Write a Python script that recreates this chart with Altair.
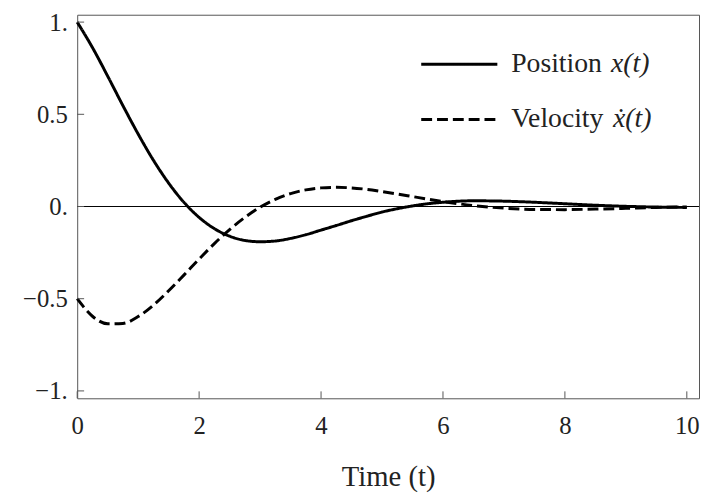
import altair as alt
import pandas as pd

# ---- data ----
t = [0, 0.25, 0.5, 0.75, 1, 1.25, 1.5, 1.75, 2, 2.25, 2.5, 2.75, 3, 3.25, 3.5,
     3.75, 4, 4.25, 4.5, 4.75, 5, 5.25, 5.5, 5.75, 6, 6.5, 7, 7.5, 8, 8.5, 9,
     9.5, 10]
position = [1.000, 0.862, 0.707, 0.547, 0.393, 0.251, 0.127, 0.023, -0.059,
            -0.120, -0.161, -0.184, -0.191, -0.187, -0.173, -0.153, -0.128,
            -0.103, -0.077, -0.053, -0.030, -0.012, 0.003, 0.015, 0.023, 0.031,
            0.029, 0.023, 0.015, 0.007, 0.001, -0.003, -0.005]
velocity = [-0.500, -0.595, -0.636, -0.634, -0.597, -0.535, -0.457, -0.372,
            -0.285, -0.201, -0.125, -0.059, -0.004, 0.039, 0.070, 0.090, 0.101,
            0.104, 0.101, 0.093, 0.081, 0.068, 0.054, 0.040, 0.027, 0.005,
            -0.009, -0.016, -0.017, -0.014, -0.010, -0.005, -0.002]

series_names = ["Position", "Velocity"]
legend_words = ["Position", "Velocity"]
legend_symbols = ["x(t)", "ẋ(t)"]

x_ticks = [0, 2, 4, 6, 8, 10]
x_tick_labels = ["0", "2", "4", "6", "8", "10"]
y_ticks = [-1, -0.5, 0, 0.5, 1]
y_tick_labels = ["−1.", "−0.5", "0.", "0.5", "1."]
x_title = "Time (t)"

# ---- layout / style ----
W, H = 629, 388
FONT = "Liberation Serif"
FRAME = "#555555"
TEXT = "#222222"


def label_expr(values, labels):
    parts = [f"datum.value == {v} ? '{l}'" for v, l in zip(values, labels)]
    return " : ".join(parts) + " : ''"


df = pd.DataFrame({
    "t": t + t,
    "value": position + velocity,
    "series": [series_names[0]] * len(t) + [series_names[1]] * len(t),
})

x_scale = alt.Scale(domain=[0, 10.2], nice=False, zero=False)
y_scale = alt.Scale(domain=[-1.04, 1.04], nice=False, zero=False)

x_axis = alt.Axis(values=x_ticks, labelExpr=label_expr(x_ticks, x_tick_labels),
                  domain=False, ticks=False, grid=False, labelFlush=False,
                  labelOverlap=False, labelFont=FONT, labelFontSize=25,
                  labelColor=TEXT, labelPadding=16, title=x_title,
                  titleFont=FONT, titleFontSize=29, titleFontWeight="normal",
                  titleColor=TEXT, titlePadding=24)
y_axis = alt.Axis(values=y_ticks, labelExpr=label_expr(y_ticks, y_tick_labels),
                  domain=False, ticks=False, grid=False, labelFlush=False,
                  labelOverlap=False, labelFont=FONT, labelFontSize=25,
                  labelColor=TEXT, labelPadding=10, title=None)


def X(field):
    return alt.X(field, scale=x_scale, axis=x_axis, title=x_title)


def Y(field):
    return alt.Y(field, scale=y_scale, axis=y_axis, title=None)


zero_line = alt.Chart(pd.DataFrame({"y": [0]})).mark_rule(
    color="black", strokeWidth=1).encode(y=Y("y:Q"))

x_tick_marks = alt.Chart(pd.DataFrame({"t": x_ticks})).mark_rule(
    color=FRAME, strokeWidth=1).encode(
    x=X("t:Q"), y=alt.value(H - 7), y2=alt.value(H))

y_tick_marks = alt.Chart(pd.DataFrame({"value": y_ticks})).mark_rule(
    color=FRAME, strokeWidth=1).encode(
    y=Y("value:Q"), x=alt.value(0), x2=alt.value(7))

lines = alt.Chart(df).mark_line(color="black", strokeWidth=3,
                                interpolate="monotone").encode(
    x=X("t:Q"),
    y=Y("value:Q"),
    strokeDash=alt.StrokeDash("series:N", legend=None,
                              scale=alt.Scale(domain=series_names,
                                              range=[[1, 0], [11, 5]])),
)

# ---- hand-built legend (allows the italic maths part) ----
legend_layers = []
legend_rows_y = [50, 106]
legend_dashes = [[1, 0], [11, 5]]
symbol_x = [540, 542]
for name, word, sym, yy, dash, sx in zip(series_names, legend_words,
                                         legend_symbols, legend_rows_y,
                                         legend_dashes, symbol_x):
    src = pd.DataFrame({"series": [name]})
    legend_layers.append(alt.Chart(src).mark_rule(
        color="black", strokeWidth=3, strokeDash=dash).encode(
        x=alt.value(348), x2=alt.value(425), y=alt.value(yy)))
    legend_layers.append(alt.Chart(src).mark_text(
        text=word, font=FONT, fontSize=28, align="left", baseline="middle",
        color=TEXT).encode(x=alt.value(439), y=alt.value(yy)))
    legend_layers.append(alt.Chart(src).mark_text(
        text=sym, font=FONT, fontSize=28, fontStyle="italic", align="left",
        baseline="middle", color=TEXT).encode(x=alt.value(sx), y=alt.value(yy)))

chart = alt.layer(zero_line, lines, x_tick_marks, y_tick_marks,
                  *legend_layers).properties(
    width=W, height=H,
    background="white",
    autosize=alt.AutoSizeParams(type="none"),
    padding={"left": 70, "top": 4, "right": 1, "bottom": 93},
).configure_view(stroke=FRAME, strokeWidth=1)

chart.save("out.html", embed_options={"renderer": "svg", "actions": False})
